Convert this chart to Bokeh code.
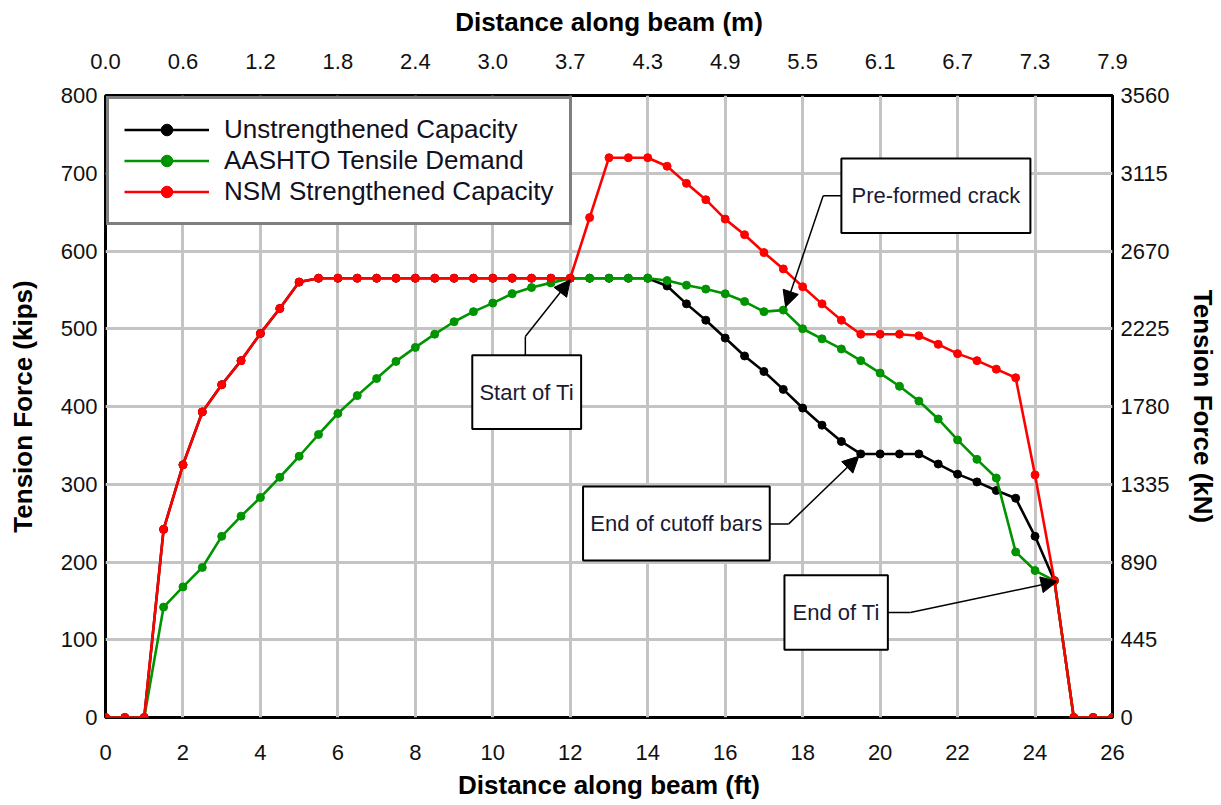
from bokeh.plotting import figure
from bokeh.models import (LinearAxis, FixedTicker, Range1d, Legend, LegendItem,
                          Arrow, NormalHead, ColumnDataSource)
from bokeh.core.properties import value
from bokeh.embed import file_html
from bokeh.resources import INLINE

# ---------------- data ----------------
dist_ft = [0.0, 0.5, 1.0, 1.5, 2.0, 2.5, 3.0, 3.5, 4.0, 4.5, 5.0, 5.5, 6.0, 6.5,
           7.0, 7.5, 8.0, 8.5, 9.0, 9.5, 10.0, 10.5, 11.0, 11.5, 12.0, 12.5, 13.0,
           13.5, 14.0, 14.5, 15.0, 15.5, 16.0, 16.5, 17.0, 17.5, 18.0, 18.5, 19.0,
           19.5, 20.0, 20.5, 21.0, 21.5, 22.0, 22.5, 23.0, 23.5, 24.0, 24.5, 25.0,
           25.5, 26.0]

unstrengthened = [0, 0, 0, 242, 325, 393, 428, 459, 494, 526, 560, 565, 565, 565,
                  565, 565, 565, 565, 565, 565, 565, 565, 565, 565, 565, 565, 565,
                  565, 565, 555, 532, 511, 488, 465, 445, 422, 398, 376, 355,
                  339, 339, 339, 339, 326, 313, 303, 292, 282, 233, 176, 0,
                  0, 0]

aashto = [0, 0, 0, 142, 168, 193, 233, 259, 283, 309, 336, 364, 391, 414,
          436, 458, 476, 493, 509, 522, 533, 545, 553, 559, 565, 565, 565,
          565, 565, 562, 556, 551, 545, 535, 522, 524, 500, 487, 474,
          459, 443, 426, 407, 384, 357, 332, 308, 213, 189, 176, 0,
          0, 0]

nsm = [0, 0, 0, 242, 325, 393, 428, 459, 494, 526, 560, 565, 565, 565,
       565, 565, 565, 565, 565, 565, 565, 565, 565, 565, 565, 643, 720,
       720, 720, 709, 687, 666, 641, 621, 598, 577, 554, 532, 511,
       493, 493, 493, 491, 480, 468, 459, 448, 437, 312, 176, 0,
       0, 0]

series_names = ["Unstrengthened Capacity", "AASHTO Tensile Demand", "NSM Strengthened Capacity"]
series_colors = ["#000000", "#009400", "#ff0000"]

ft_ticks = [0, 2, 4, 6, 8, 10, 12, 14, 16, 18, 20, 22, 24, 26]
m_labels = ["0.0", "0.6", "1.2", "1.8", "2.4", "3.0", "3.7", "4.3", "4.9", "5.5",
            "6.1", "6.7", "7.3", "7.9"]
kip_ticks = [0, 100, 200, 300, 400, 500, 600, 700, 800]
kn_labels = ["0", "445", "890", "1335", "1780", "2225", "2670", "3115", "3560"]

# annotations: text, box (left, right, bottom, top), leader anchor, bend, arrow tip
note_text = ["Start of Ti", "Pre-formed crack", "End of cutoff bars", "End of Ti"]
note_box = [(9.47, 12.28, 371, 466), (19.0, 23.88, 623, 719),
            (12.33, 17.15, 202, 297), (17.53, 20.2, 87, 183)]
note_anchor = [(10.84, 466), (19.0, 671), (17.15, 249), (20.2, 135)]
note_bend = [(10.84, 490), (18.53, 671), (17.64, 249), (20.78, 135)]
note_tip = [(12.0, 563), (17.56, 528), (19.45, 336), (24.57, 175)]

FONT = "Liberation Sans"

# ---------------- figure ----------------
p = figure(width=1221, height=805, x_range=Range1d(0, 26), y_range=Range1d(0, 800),
           output_backend="svg", toolbar_location=None,
           min_border_left=105, min_border_right=109, min_border_top=95,
           min_border_bottom=88, background_fill_color="white",
           border_fill_color="white")

p.outline_line_color = "black"
p.outline_line_width = 3

p.xgrid.ticker = FixedTicker(ticks=ft_ticks)
p.ygrid.ticker = FixedTicker(ticks=kip_ticks)
for g in (p.xgrid, p.ygrid):
    g.grid_line_color = "#c4c4c4"
    g.grid_line_width = 3

bottom_axis = p.below[0]
left_axis = p.left[0]
bottom_axis.ticker = FixedTicker(ticks=ft_ticks)
left_axis.ticker = FixedTicker(ticks=kip_ticks)
bottom_axis.axis_label = "Distance along beam (ft)"
left_axis.axis_label = "Tension Force (kips)"

top_axis = LinearAxis(ticker=FixedTicker(ticks=ft_ticks),
                      major_label_overrides={t: l for t, l in zip(ft_ticks, m_labels)},
                      axis_label="Distance along beam (m)")
right_axis = LinearAxis(ticker=FixedTicker(ticks=kip_ticks),
                        major_label_overrides={t: l for t, l in zip(kip_ticks, kn_labels)},
                        axis_label="Tension Force (kN)")
p.add_layout(top_axis, "above")
p.add_layout(right_axis, "right")

for ax in (bottom_axis, left_axis, top_axis, right_axis):
    ax.axis_line_color = None
    ax.major_tick_line_color = None
    ax.minor_tick_line_color = None
    ax.major_tick_out = 0
    ax.major_tick_in = 0
    ax.major_label_text_font = FONT
    ax.major_label_text_font_size = "22px"
    ax.major_label_text_color = "#111111"
    ax.axis_label_text_font = FONT
    ax.axis_label_text_font_style = "bold"
    ax.axis_label_text_font_size = "26px"
    ax.axis_label_text_color = "black"

bottom_axis.major_label_standoff = 27
bottom_axis.axis_label_standoff = 7
top_axis.major_label_standoff = 27
top_axis.axis_label_standoff = 14
left_axis.major_label_standoff = 8
left_axis.axis_label_standoff = 20
right_axis.major_label_standoff = 8
right_axis.axis_label_standoff = 16

# ---------------- series ----------------
items = []
for name, ys, col in zip(series_names, [unstrengthened, aashto, nsm], series_colors):
    src = ColumnDataSource(dict(x=dist_ft, y=ys))
    lr = p.line("x", "y", source=src, line_color=col, line_width=2.6)
    sr = p.scatter("x", "y", source=src, marker="circle", size=8,
                   fill_color=col, line_color=col)
    items.append(LegendItem(label=name, renderers=[lr, sr]))

legend = Legend(items=items, location="top_left", margin=1, padding=15, spacing=0,
                glyph_width=85, glyph_height=29, label_height=29, label_standoff=15,
                label_text_font=FONT, label_text_font_size="26px",
                label_text_color="#111122",
                border_line_color="black", border_line_width=3,
                background_fill_color="white", background_fill_alpha=1.0)
p.add_layout(legend, "center")

# ---------------- annotations ----------------
bx = ColumnDataSource(dict(
    left=[b[0] for b in note_box], right=[b[1] for b in note_box],
    bottom=[b[2] for b in note_box], top=[b[3] for b in note_box],
    tx=[(b[0] + b[1]) / 2 for b in note_box], ty=[(b[2] + b[3]) / 2 for b in note_box],
    text=note_text))
p.quad(left="left", right="right", bottom="bottom", top="top", source=bx,
       fill_color="white", line_color="black", line_width=2)
p.text(x="tx", y="ty", text="text", source=bx, text_align="center",
       text_baseline="middle", text_font=value(FONT), text_font_size="22px",
       text_color="#1a1a33")

for a, b, t in zip(note_anchor, note_bend, note_tip):
    p.line([a[0], b[0]], [a[1], b[1]], line_color="black", line_width=1.5)
    p.add_layout(Arrow(end=NormalHead(size=16, fill_color="black", line_color="black"),
                       x_start=b[0], y_start=b[1], x_end=t[0], y_end=t[1],
                       line_color="black", line_width=1.5))

open("out.html", "w").write(file_html(p, INLINE))
